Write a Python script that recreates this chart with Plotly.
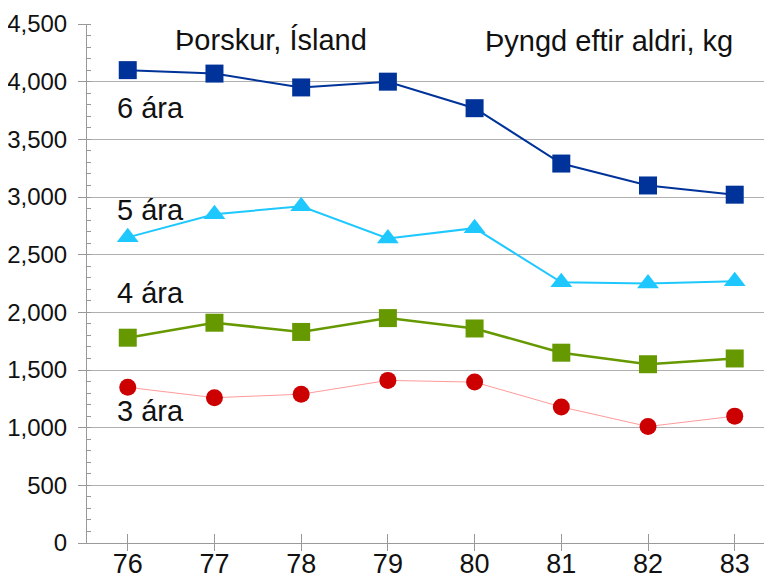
import plotly.graph_objects as go

years = ["76", "77", "78", "79", "80", "81", "82", "83"]
age6 = [4100, 4070, 3950, 4000, 3770, 3290, 3100, 3020]
age5 = [2650, 2850, 2920, 2640, 2730, 2260, 2250, 2270]
age4 = [1780, 1910, 1830, 1950, 1860, 1650, 1550, 1600]
age3 = [1350, 1260, 1290, 1410, 1395, 1180, 1010, 1100]
series_names = ["6 ára", "5 ára", "4 ára", "3 ára"]
label_y = [3775, 2885, 2168, 1145]
y_ticks = [0, 500, 1000, 1500, 2000, 2500, 3000, 3500, 4000, 4500]
y_ticktext = ["0", "500", "1,000", "1,500", "2,000", "2,500", "3,000", "3,500", "4,000", "4,500"]

FONT = "Liberation Sans, Arial, sans-serif"
X_RANGE = [-0.47, 7.43]

fig = go.Figure()
styles = [
    (age6, dict(color="#003399", width=2), dict(symbol="square", size=18, color="#003399")),
    (age5, dict(color="#1ec8ff", width=2), dict(symbol="triangle-up", size=19, color="#1ec8ff")),
    (age4, dict(color="#669900", width=2.5), dict(symbol="square", size=18, color="#669900")),
    (age3, dict(color="#ff9a9a", width=1), dict(symbol="circle", size=17, color="#cc0000")),
]
for name, (vals, line, marker) in zip(series_names, styles):
    fig.add_trace(go.Scatter(x=years, y=vals, mode="lines+markers", name=name,
                             line=line, marker=marker, showlegend=False, cliponaxis=False))

# empty helper trace so the overlay axis (inner halves of the x ticks) is drawn
fig.add_trace(go.Scatter(x=[], y=[], xaxis="x2", yaxis="y", showlegend=False, hoverinfo="skip"))

for name, ly in zip(series_names, label_y):
    fig.add_annotation(x=-0.115, y=ly, xref="x", yref="y", text=name, showarrow=False,
                       xanchor="left", yanchor="middle", xshift=-3,
                       font=dict(size=29, color="#111", family=FONT))

fig.add_annotation(x=1.65, y=4360, xref="x", yref="y", text="Þorskur, Ísland", showarrow=False,
                   xanchor="center", yanchor="middle", font=dict(size=29, color="#111", family=FONT))
fig.add_annotation(x=5.55, y=4350, xref="x", yref="y", text="Þyngd eftir aldri, kg", showarrow=False,
                   xanchor="center", yanchor="middle", font=dict(size=29, color="#111", family=FONT))

# the page body adds an 8px offset; margins compensate for it
fig.update_layout(
    width=772, height=580,
    margin=dict(l=79, r=8, t=16, b=45),
    paper_bgcolor="white", plot_bgcolor="white",
    font=dict(family=FONT, size=24, color="#111"),
    xaxis=dict(type="category", range=X_RANGE, showgrid=False, automargin=False,
               showline=True, linecolor="#999", linewidth=1,
               ticks="outside", ticklen=7, tickcolor="#999",
               ticklabelstandoff=-10,
               tickfont=dict(size=27, family=FONT, color="#111")),
    xaxis2=dict(overlaying="x", range=X_RANGE, tickvals=list(range(len(years))),
                showticklabels=False, ticks="inside", ticklen=9, tickcolor="#999",
                showgrid=False, zeroline=False, showline=False, automargin=False,
                side="bottom", anchor="y"),
)
fig.update_yaxes(range=[0, 4500], tickvals=y_ticks, ticktext=y_ticktext, automargin=False,
                 showgrid=True, gridcolor="#b0b0b0", gridwidth=1,
                 showline=True, linecolor="#999", linewidth=1,
                 zeroline=False,
                 ticks="outside", ticklen=8, tickcolor="#999",
                 ticklabelstandoff=6,
                 minor=dict(ticks="inside", dtick=100, ticklen=4, tickcolor="#999", showgrid=False),
                 tickfont=dict(size=24, family=FONT, color="#111"))

fig.write_html("out.html")
